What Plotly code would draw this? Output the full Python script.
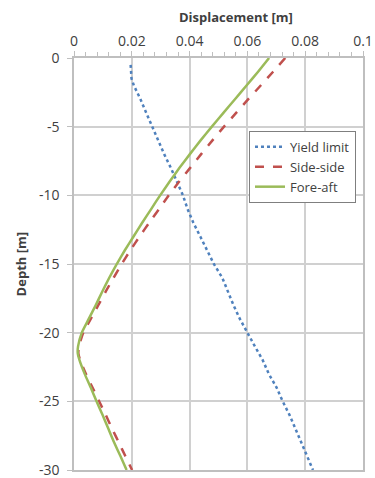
import plotly.graph_objects as go

# Depth values [m]
depth = [0, -1, -2, -3, -4, -5, -6, -7, -8, -9, -10, -11, -12, -13, -14, -15,
         -16, -17, -18, -19, -20, -21, -21.5, -22, -23, -24, -25, -26, -27, -28, -29, -30]

fore_aft = [0.0675, 0.0637, 0.0597, 0.0557, 0.0517, 0.0477, 0.0438, 0.0401, 0.0365, 0.0331,
            0.0298, 0.0267, 0.0236, 0.0206, 0.0176, 0.0148, 0.0122, 0.0098, 0.0075, 0.0051,
            0.0027, 0.0014, 0.0013, 0.0019, 0.0037, 0.0058, 0.0078, 0.0099, 0.0119, 0.0139,
            0.0161, 0.0182]

side_side = [0.0731, 0.0689, 0.0646, 0.0603, 0.0561, 0.0519, 0.0479, 0.0440, 0.0402, 0.0364,
             0.0328, 0.0294, 0.0260, 0.0227, 0.0195, 0.0165, 0.0137, 0.0110, 0.0084, 0.0058,
             0.0032, 0.0017, 0.0015, 0.0021, 0.0041, 0.0064, 0.0087, 0.0110, 0.0132, 0.0155,
             0.0178, 0.0201]

yield_depth = [-0.5, -1.5, -2, -3, -4, -5, -6, -7, -8, -9, -10, -11, -12, -13, -14, -15,
               -16, -17, -18, -19, -20, -21, -22, -23, -24, -25, -26, -27, -28, -29, -30]
yield_limit = [0.0196, 0.0199, 0.0207, 0.0230, 0.0250, 0.0270, 0.0291, 0.0312, 0.0335, 0.0356,
               0.0377, 0.0393, 0.0413, 0.0437, 0.0460, 0.0484, 0.0513, 0.0532, 0.0552, 0.0574,
               0.0599, 0.0626, 0.0653, 0.0674, 0.0701, 0.0722, 0.0746, 0.0766, 0.0785, 0.0806,
               0.0827]

x_ticks = [0, 0.02, 0.04, 0.06, 0.08, 0.1]
x_tick_text = ["0", "0.02", "0.04", "0.06", "0.08", "0.1"]
y_ticks = [0, -5, -10, -15, -20, -25, -30]
y_tick_text = ["0", "-5", "-10", "-15", "-20", "-25", "-30"]

font_family = "Open Sans, Liberation Sans, sans-serif"
text_color = "#404040"

fig = go.Figure()
fig.add_trace(go.Scatter(x=yield_limit, y=yield_depth, mode="lines", name="Yield limit",
                         legendgroup="a",
                         line=dict(color="#4F81BD", width=2.5, dash="dot")))
fig.add_trace(go.Scatter(x=side_side, y=depth, mode="lines", name="Side-side",
                         legendgroup="b",
                         line=dict(color="#C0504D", width=2.5, dash="dash", shape="spline", smoothing=0.5)))
fig.add_trace(go.Scatter(x=fore_aft, y=depth, mode="lines", name="Fore-aft",
                         legendgroup="c",
                         line=dict(color="#9BBB59", width=2.5, shape="spline", smoothing=0.5)))

fig.update_layout(
    width=375, height=478,
    margin=dict(l=74, r=12, t=58, b=8, autoexpand=False),
    paper_bgcolor="white", plot_bgcolor="white",
    font=dict(family=font_family, size=13, color=text_color),
    showlegend=True,
    legend=dict(x=0.6055, y=0.823, xanchor="left", yanchor="top",
                bgcolor="white", bordercolor="#7f7f7f", borderwidth=1,
                font=dict(size=13, color=text_color), tracegroupgap=4,
                traceorder="normal"),
    xaxis=dict(side="top", range=[0, 0.1], tickvals=x_ticks, ticktext=x_tick_text,
               automargin=False, ticklabeloverflow="allow",
               showgrid=True, gridcolor="#d0d0d0", gridwidth=1.5,
               showline=True, linecolor="#bfbfbf", linewidth=1.5, mirror=True,
               ticks="outside", ticklen=5, tickcolor="#bfbfbf",
               minor=dict(dtick=0.004, ticks="outside", ticklen=4, tickcolor="#bfbfbf", showgrid=False),
               zeroline=False, tickfont=dict(size=14, color=text_color)),
    yaxis=dict(range=[-30, 0], tickvals=y_ticks, ticktext=y_tick_text,
               automargin=False, ticklabeloverflow="allow",
               showgrid=True, gridcolor="#d0d0d0", gridwidth=1.5,
               showline=True, linecolor="#bfbfbf", linewidth=1.5, mirror=True,
               ticks="outside", ticklen=5, tickcolor="#bfbfbf", ticklabelstandoff=5,
               zeroline=False, tickfont=dict(size=14, color=text_color)),
    annotations=[
        dict(text="<b>Displacement [m]</b>", xref="paper", yref="paper", x=0.56, y=1.0995,
             xanchor="center", yanchor="middle", showarrow=False,
             font=dict(size=13, color=text_color)),
        dict(text="<b>Depth [m]</b>", xref="paper", yref="paper", x=-0.182, y=0.5,
             xanchor="center", yanchor="middle", showarrow=False, textangle=-90,
             font=dict(size=13, color=text_color)),
    ],
)

fig.write_html("out.html", config={"displayModeBar": False},
               post_script="document.body.style.margin='0';")
